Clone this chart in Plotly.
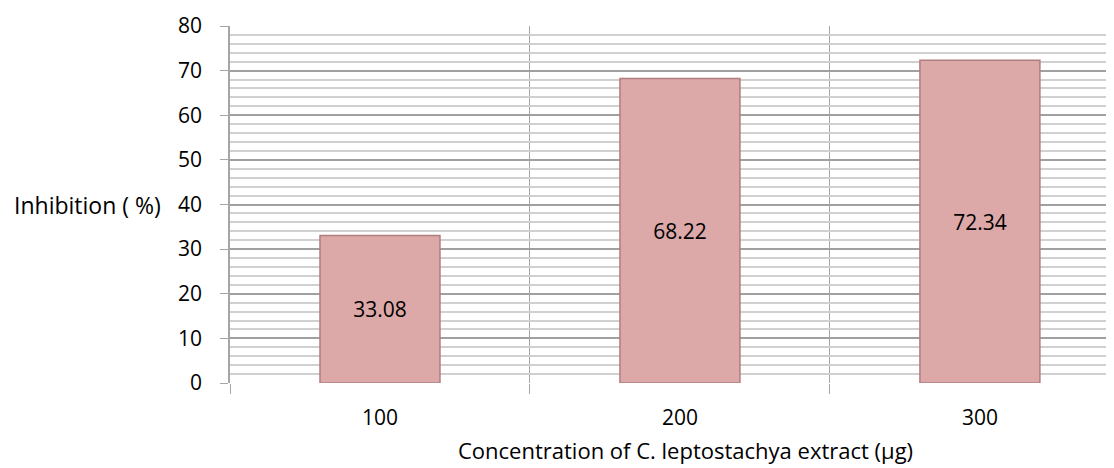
import plotly.graph_objects as go

categories = ["100", "200", "300"]
inhibition = [33.08, 68.22, 72.34]
labels = ["33.08", "68.22", "72.34"]
y_title = "Inhibition ( %)"
x_title = "Concentration of C. leptostachya extract (µg)"

FONT = "Open Sans, Lato, sans-serif"
xpos = list(range(len(categories)))

fig = go.Figure()
fig.add_trace(go.Bar(
    x=xpos, y=inhibition, text=labels, width=0.4,
    textposition="inside", insidetextanchor="middle",
    textfont=dict(family=FONT, size=21, color="#000000"),
    marker=dict(color="#dca8a8", line=dict(color="#b07e7e", width=1.5)),
    hoverinfo="skip",
))

fig.update_layout(
    width=1106, height=460,
    margin=dict(l=222, r=0, t=18, b=85),
    paper_bgcolor="white", plot_bgcolor="white",
    showlegend=False,
    font=dict(family=FONT, size=21, color="#000000"),
    xaxis=dict(
        range=[-0.5, 2.447], tickvals=xpos, ticktext=categories,
        showgrid=False, zeroline=False, ticks="", ticklabelstandoff=20,
        showline=False,
        minor=dict(tick0=0.5, dtick=1, showgrid=True, gridcolor="#a6a6a6",
                   gridwidth=1, ticks="outside", ticklen=10, tickcolor="#a6a6a6"),
    ),
    yaxis=dict(
        range=[0, 80], dtick=10, tick0=0,
        showgrid=True, gridcolor="#a0a0a0", gridwidth=1.5,
        zeroline=False, showline=True, linecolor="#a6a6a6", linewidth=1.5,
        ticks="outside", ticklen=8, tickcolor="#a6a6a6", ticklabelstandoff=14,
        minor=dict(dtick=2, showgrid=True, gridcolor="#d0d0d0", gridwidth=1.5),
    ),
    annotations=[
        dict(text=y_title, xref="paper", yref="paper", x=-0.0758, y=0.4986,
             xanchor="right", yanchor="middle", showarrow=False,
             font=dict(family=FONT, size=23)),
        dict(text=x_title, xref="paper", yref="paper", x=0.515, y=-0.188,
             xanchor="center", yanchor="middle", showarrow=False,
             font=dict(family=FONT, size=22)),
    ],
)

fig.write_html("out.html")
